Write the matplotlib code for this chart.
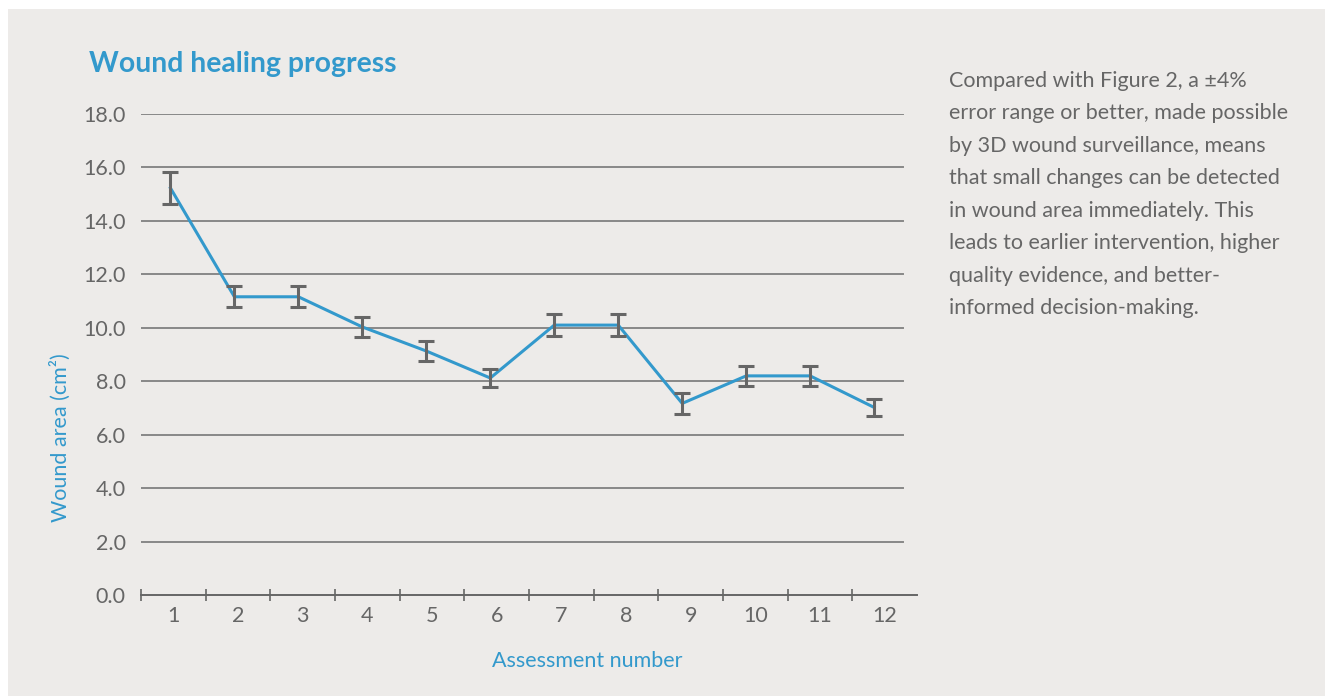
import matplotlib
matplotlib.use("Agg")
import matplotlib.pyplot as plt
from matplotlib.ticker import FixedLocator, NullFormatter

# data
assessments = [1, 2, 3, 4, 5, 6, 7, 8, 9, 10, 11, 12]
wound_area = [15.23, 11.16, 11.16, 10.03, 9.13, 8.12, 10.1, 10.1, 7.17, 8.2, 8.2, 7.02]
error = [0.6, 0.4, 0.4, 0.38, 0.38, 0.35, 0.4, 0.4, 0.4, 0.38, 0.38, 0.32]
y_ticks = [0, 2, 4, 6, 8, 10, 12, 14, 16, 18]

note = (
    "Compared with Figure 2, a \u00b14%\n"
    "error range or better, made possible\n"
    "by 3D wound surveillance, means\n"
    "that small changes can be detected\n"
    "in wound area immediately. This\n"
    "leads to earlier intervention, higher\n"
    "quality evidence, and better-\n"
    "informed decision-making."
)

BLUE = "#3399cc"
GREY = "#666666"
PANEL = "#edebe9"
FS = 15.5

plt.rcParams["font.family"] = ["Lato", "DejaVu Sans"]

fig = plt.figure(figsize=(13.25, 6.96), dpi=100)
fig.patch.set_facecolor("white")
# light grey panel behind everything
panel = plt.Rectangle((8 / 1325, 0), 1, 1 - 9 / 696, transform=fig.transFigure,
                      facecolor=PANEL, edgecolor="none", zorder=-10)
fig.add_artist(panel)

ax = fig.add_axes([141 / 1325, 1 - 595 / 696, (917 - 141) / 1325, (595 - 114) / 696])
ax.set_facecolor("none")
ax.set_zorder(1)

# gridlines (stop a little short of the axis end)
for yv in y_ticks[1:]:
    ax.axhline(yv, xmin=0, xmax=(903 - 141) / (917 - 141), color="#888888", lw=1.4, zorder=1)

ax.set_xlim(0.5, 12.5)
ax.set_ylim(0, 18)

# the series in the original sits on a slightly tighter scale than the category ticks
ax_s = ax.twiny()
ax_s.set_xlim(0.54, 12.67)
ax_s.set_ylim(0, 18)
ax_s.axis("off")
ax_s.plot(assessments, wound_area, color=BLUE, lw=2.2, zorder=3)
ax_s.errorbar(assessments, wound_area, yerr=error, fmt="none", ecolor=GREY,
              elinewidth=2.2, capsize=5.5, capthick=2.2, zorder=4)

for side in ["top", "right", "left"]:
    ax.spines[side].set_visible(False)
ax.spines["bottom"].set_color(GREY)
ax.spines["bottom"].set_linewidth(1.4)

# ticks between categories, labels at categories
ax.xaxis.set_major_locator(FixedLocator([a - 0.5 for a in assessments]))
ax.xaxis.set_major_formatter(NullFormatter())
ax.xaxis.set_minor_locator(FixedLocator(assessments))
ax.set_xticklabels([str(a) for a in assessments], minor=True)
ax.tick_params(axis="x", which="major", direction="inout", length=9, width=1.2, color=GREY)
ax.tick_params(axis="x", which="minor", length=0, pad=8, labelsize=FS, labelcolor=GREY)

ax.set_yticks(y_ticks)
ax.set_yticklabels([f"{v:.1f}" for v in y_ticks])
ax.tick_params(axis="y", length=0, pad=11, labelsize=FS, labelcolor=GREY)

fig.text(89 / 1325, 1 - 64 / 696, "Wound healing progress", color=BLUE,
         fontsize=20.4, fontweight="bold", va="center", ha="left")
fig.text(60 / 1325, 1 - 438 / 696, "Wound area (cm\u00b2)", color=BLUE,
         fontsize=FS, rotation=90, va="center", ha="center")
fig.text(587 / 1325, 1 - 661 / 696, "Assessment number", color=BLUE,
         fontsize=FS, va="center", ha="center")
fig.text(949 / 1325, 1 - 71 / 696, note, color=GREY, fontsize=FS,
         va="top", ha="left", linespacing=1.78)

fig.savefig("out.png", dpi=100, facecolor=fig.get_facecolor())
